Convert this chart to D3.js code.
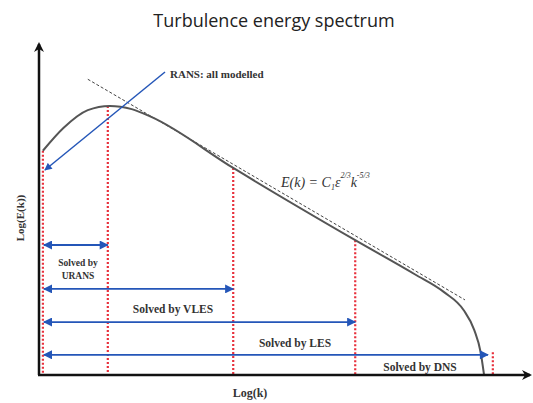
<!DOCTYPE html>
<html>
<head>
<meta charset="utf-8">
<script src="https://cdn.jsdelivr.net/npm/d3@7"></script>
<style>
  body { margin: 0; background: #fff; }
  svg text { fill: #333; }
  .lbl { font-family: "Liberation Serif", "DejaVu Serif", serif; font-weight: bold; }
</style>
</head>
<body>
<svg id="chart" width="533" height="403"></svg>
<script>
// spectrum curve (log k, log E)
const logK = [0.08, 0.5, 1.0, 1.45, 1.9, 2.3, 3.98, 6.48, 7.7, 8.3, 8.7, 8.92, 9.05, 9.12];
const logE = [6.9, 7.6, 8.15, 8.28, 8.18, 7.94, 6.37, 4.15, 3.1, 2.55, 2.0, 1.38, 0.7, 0.0];

// -5/3 slope reference line
const slopeK = [1.0, 8.73];
const slopeE = [9.1, 2.31];

// cut-off wavenumbers and where each dotted line stops
const cutK = [0.08, 1.41, 3.98, 6.48, 9.3];
const cutTop = [6.9, 8.28, 6.37, 4.15, 0.7];

// "solved by" ranges: level and right end
const rangeNames = ['URANS', 'VLES', 'LES', 'DNS'];
const rangeE = [4.0, 2.65, 1.63, 0.62];
const rangeEnd = [1.41, 3.98, 6.48, 9.2];

const svg = d3.select('#chart');
const x = d3.scaleLinear().domain([0, 10]).range([39, 527]);
const y = d3.scaleLinear().domain([0, 10]).range([375, 50]);

const defs = svg.append('defs');
defs.append('marker')
  .attr('id', 'blueHead')
  .attr('viewBox', '0 0 10 10')
  .attr('refX', 9).attr('refY', 5)
  .attr('markerWidth', 5.5).attr('markerHeight', 5)
  .attr('orient', 'auto-start-reverse')
  .append('path').attr('d', 'M0,0L10,5L0,10Z').attr('fill', '#2456b8');
defs.append('marker')
  .attr('id', 'blackHead')
  .attr('viewBox', '0 0 10 10')
  .attr('refX', 8).attr('refY', 5)
  .attr('markerWidth', 4).attr('markerHeight', 4)
  .attr('orient', 'auto')
  .append('path').attr('d', 'M0,0L10,5L0,10L3,5Z').attr('fill', '#111');

// title
svg.append('text')
  .attr('x', 274).attr('y', 27)
  .attr('text-anchor', 'middle')
  .style('font-family', '"Open Sans", "Liberation Sans", sans-serif')
  .style('font-size', '18px')
  .style('fill', '#222')
  .text('Turbulence energy spectrum');

// dotted cut-off lines
svg.append('g').selectAll('line')
  .data(cutK)
  .join('line')
  .attr('x1', d => x(d)).attr('x2', d => x(d))
  .attr('y1', (d, i) => y(cutTop[i])).attr('y2', y(0))
  .attr('stroke', '#e8303c')
  .attr('stroke-width', 2.2)
  .attr('stroke-dasharray', '2,2');

// reference slope (dashed)
svg.append('line')
  .attr('x1', x(slopeK[0])).attr('y1', y(slopeE[0]))
  .attr('x2', x(slopeK[1])).attr('y2', y(slopeE[1]))
  .attr('stroke', '#444')
  .attr('stroke-width', 1)
  .attr('stroke-dasharray', '3,2');

// spectrum
const line = d3.line()
  .x(d => x(d[0]))
  .y(d => y(d[1]))
  .curve(d3.curveMonotoneX);
svg.append('path')
  .datum(logK.map((k, i) => [k, logE[i]]))
  .attr('d', line)
  .attr('fill', 'none')
  .attr('stroke', '#555')
  .attr('stroke-width', 2);

// range arrows
svg.append('g').selectAll('line')
  .data(rangeE)
  .join('line')
  .attr('x1', x(cutK[0]) + 1).attr('x2', (d, i) => x(rangeEnd[i]))
  .attr('y1', d => y(d)).attr('y2', d => y(d))
  .attr('stroke', '#2456b8')
  .attr('stroke-width', 1.8)
  .attr('marker-start', 'url(#blueHead)')
  .attr('marker-end', 'url(#blueHead)');

// range labels
const lbl = svg.append('g').attr('class', 'lbl').style('font-size', '11.5px');
lbl.append('text').attr('x', 78).attr('y', 266).attr('text-anchor', 'middle').style('font-size', '9.5px').text('Solved by');
lbl.append('text').attr('x', 78).attr('y', 279).attr('text-anchor', 'middle').style('font-size', '9.5px').text(rangeNames[0]);
lbl.append('text').attr('x', 173).attr('y', 313).attr('text-anchor', 'middle').text('Solved  by  ' + rangeNames[1]);
lbl.append('text').attr('x', 295).attr('y', 347).attr('text-anchor', 'middle').text('Solved  by  ' + rangeNames[2]);
lbl.append('text').attr('x', 420).attr('y', 371).attr('text-anchor', 'middle').text('Solved by ' + rangeNames[3]);

// RANS pointer
svg.append('line')
  .attr('x1', 165).attr('y1', 72)
  .attr('x2', x(cutK[0]) + 2).attr('y2', 170)
  .attr('stroke', '#2456b8')
  .attr('stroke-width', 1.5)
  .attr('marker-end', 'url(#blueHead)');
lbl.append('text').attr('x', 170).attr('y', 78).style('font-size', '11px').text('RANS:  all modelled');

// formula
const f = svg.append('text')
  .attr('x', 281).attr('y', 187)
  .style('font-family', '"Liberation Serif", "DejaVu Serif", serif')
  .style('font-style', 'italic')
  .style('font-size', '14px');
f.append('tspan').text('E(k) = C');
f.append('tspan').attr('dy', 3).style('font-size', '8px').text('1');
f.append('tspan').attr('dy', -3).text('ε');
f.append('tspan').attr('dy', -9).style('font-size', '8px').text('2/3');
f.append('tspan').attr('dy', 9).text('k');
f.append('tspan').attr('dy', -9).style('font-size', '8px').text('-5/3');

// axes
svg.append('line')
  .attr('x1', x(0)).attr('y1', y(0))
  .attr('x2', x(0)).attr('y2', 44)
  .attr('stroke', '#111').attr('stroke-width', 2.5)
  .attr('marker-end', 'url(#blackHead)');
svg.append('line')
  .attr('x1', x(0) - 1).attr('y1', y(0))
  .attr('x2', 530).attr('y2', y(0))
  .attr('stroke', '#111').attr('stroke-width', 2.5)
  .attr('marker-end', 'url(#blackHead)');

// axis titles
lbl.append('text')
  .attr('x', 250).attr('y', 397)
  .attr('text-anchor', 'middle')
  .style('font-size', '12px')
  .text('Log(k)');
lbl.append('text')
  .attr('transform', 'translate(24,218) rotate(-90)')
  .attr('text-anchor', 'middle')
  .style('font-size', '11px')
  .text('Log(E(k))');
</script>
</body>
</html>
